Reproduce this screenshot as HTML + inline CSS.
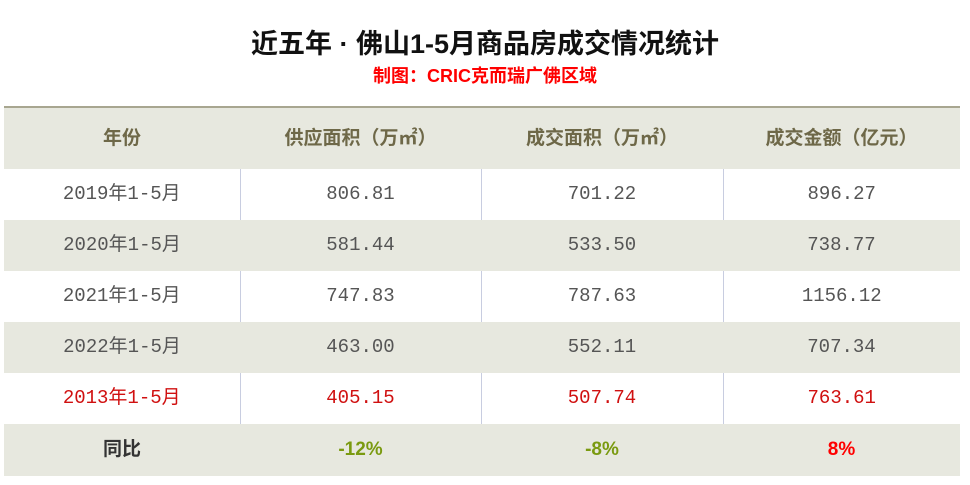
<!DOCTYPE html>
<html><head><meta charset="utf-8"><style>
body{margin:0;width:970px;height:485px;background:#fff;overflow:hidden;font-family:"Liberation Sans","Noto Sans CJK SC",sans-serif;position:relative}
.t{position:absolute;left:0;width:970px;text-align:center}
#title{top:22px;font-size:27px;font-weight:bold;color:#111}
#sub{top:62px;font-size:18px;font-weight:bold;color:#f00}
table{position:absolute;left:4px;top:106px;width:956px;border-collapse:collapse;border-top:2px solid #a8a690}
td{height:51px;line-height:51px;vertical-align:middle;text-align:center;font-family:"Liberation Mono","Noto Sans CJK SC",monospace;font-size:19px;color:#555;padding:0;overflow:hidden}
td span{display:inline-block;line-height:20px;vertical-align:middle}
tr.s td{background:#e7e8df}
tr.h td{height:61px;line-height:61px;font-family:"Liberation Sans","Noto Sans CJK SC",sans-serif;font-weight:bold;color:#6e6848;font-size:19px}
td.b{border-left:1px solid #c8cde0}
tr.r td{color:#d01010}
tr.f td{height:52px;line-height:52px;font-family:"Liberation Sans","Noto Sans CJK SC",sans-serif;font-weight:bold;font-size:19px}
</style></head><body>
<div class="t" id="title">近五年 · 佛山1-5月商品房成交情况统计</div>
<div class="t" id="sub">制图：CRIC克而瑞广佛区域</div>
<table>
<colgroup><col style="width:236px"><col style="width:241px"><col style="width:242px"><col></colgroup>
<tr class="h s"><td><span>年份</span></td><td><span>供应面积（万㎡）</span></td><td><span>成交面积（万㎡）</span></td><td><span>成交金额（亿元）</span></td></tr>
<tr><td><span>2019年1-5月</span></td><td class="b"><span>806.81</span></td><td class="b"><span>701.22</span></td><td class="b"><span>896.27</span></td></tr>
<tr class="s"><td><span>2020年1-5月</span></td><td><span>581.44</span></td><td><span>533.50</span></td><td><span>738.77</span></td></tr>
<tr><td><span>2021年1-5月</span></td><td class="b"><span>747.83</span></td><td class="b"><span>787.63</span></td><td class="b"><span>1156.12</span></td></tr>
<tr class="s"><td><span>2022年1-5月</span></td><td><span>463.00</span></td><td><span>552.11</span></td><td><span>707.34</span></td></tr>
<tr class="r"><td><span>2013年1-5月</span></td><td class="b"><span>405.15</span></td><td class="b"><span>507.74</span></td><td class="b"><span>763.61</span></td></tr>
<tr class="s f"><td style="color:#333"><span>同比</span></td><td style="color:#7a9a10"><span>-12%</span></td><td style="color:#7a9a10"><span>-8%</span></td><td style="color:#f00"><span>8%</span></td></tr>
</table>
</body></html>
